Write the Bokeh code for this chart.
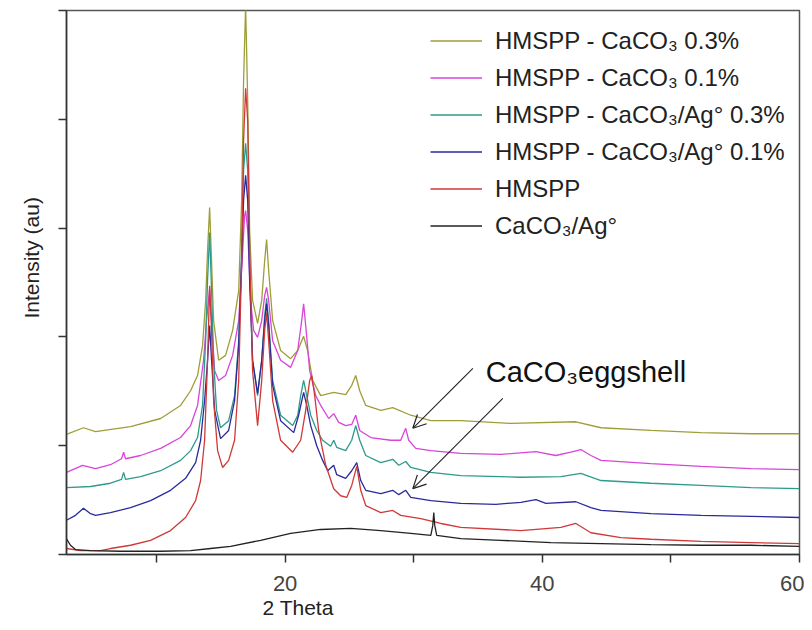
from bokeh.plotting import figure
from bokeh.models import FixedTicker, Legend, LegendItem, Label, Arrow, OpenHead, Range1d, Title
from bokeh.embed import file_html
from bokeh.resources import INLINE

# ---------------- data (2 Theta in degrees, intensity in arbitrary units 0-100) -------------
olive_x = [3.00, 4.32, 5.26, 7.98, 10.32, 11.87, 12.65, 13.19, 13.58, 13.82, 13.97, 14.13, 14.28, 14.44,
           14.83, 15.37, 15.92, 16.39, 16.62, 16.77, 16.93, 17.09, 17.24, 17.47, 17.86, 18.18, 18.41,
           18.56, 18.72, 19.03, 19.65, 20.43, 20.98, 21.44, 21.75, 22.14, 22.77, 23.78, 24.71, 25.18,
           25.49, 25.80, 26.27, 27.44, 28.37, 29.77, 31.33, 33.66, 37.55, 42.61, 44.56, 48.45, 52.34,
           56.23, 60.0]
olive_y = [22.1, 23.3, 22.6, 23.5, 25.0, 27.4, 30.1, 32.9, 38.4, 46.7, 55.9, 63.8, 54.0, 43.0,
           35.7, 36.6, 41.2, 48.5, 65.1, 87.1, 101, 83.5, 59.6, 46.7, 42.5, 46.7, 54.0,
           57.9, 52.2, 43.0, 37.5, 36.0, 37.5, 40.1, 37.5, 32.0, 29.2, 29.8, 29.4, 31.1,
           32.9, 30.1, 27.4, 26.5, 27.0, 25.6, 24.6, 24.6, 24.1, 24.4, 23.3, 22.8, 22.4,
           22.2, 22.2]

magenta_x = [3.00, 4.25, 5.26, 6.42, 7.28, 7.44, 7.59, 8.76, 10.32, 11.87, 12.65, 13.19, 13.66, 13.89,
             14.13, 14.28, 14.52, 14.83, 15.37, 15.92, 16.39, 16.62, 16.85, 16.93, 17.09, 17.32, 17.55,
             17.86, 18.18, 18.41, 18.56, 18.72, 19.03, 19.65, 20.43, 20.98, 21.29, 21.44, 21.60, 21.91,
             22.38, 22.77, 23.39, 23.78, 24.17, 24.71, 25.18, 25.49, 25.80, 26.66, 28.21, 28.99, 29.23,
             29.38, 29.61, 30.16, 31.33, 33.66, 36.77, 39.50, 41.05, 42.22, 43.00, 43.78, 44.56, 48.45,
             52.34, 56.23, 60.0]
magenta_y = [15.1, 16.4, 15.8, 16.5, 17.6, 18.8, 17.6, 18.2, 19.5, 21.5, 23.7, 27.4, 35.7, 43.0,
             48.9, 43.0, 33.8, 32.0, 32.9, 36.6, 43.0, 52.2, 62.3, 63.2, 59.6, 46.7, 41.2,
             39.9, 43.0, 47.6, 49.1, 46.7, 39.3, 35.7, 34.4, 37.5, 43.0, 46.1, 42.1, 33.8,
             29.2, 27.4, 25.0, 25.9, 24.3, 23.7, 23.9, 25.6, 22.8, 21.5, 21.0, 21.0, 22.4,
             23.2, 21.0, 19.5, 19.1, 18.6, 18.4, 18.9, 18.2, 18.8, 19.3, 18.2, 17.3, 16.7,
             16.2, 15.8, 15.6]

teal_x = [3.00, 4.87, 6.42, 7.28, 7.44, 7.59, 8.76, 10.32, 11.87, 12.65, 13.19, 13.58, 13.82, 13.97,
          14.13, 14.28, 14.44, 14.67, 14.98, 15.61, 16.07, 16.39, 16.62, 16.77, 16.93, 17.09, 17.24,
          17.47, 17.86, 18.18, 18.41, 18.56, 18.72, 19.03, 19.65, 20.59, 20.98, 21.21, 21.44, 21.68,
          21.99, 22.46, 22.92, 23.54, 23.78, 24.01, 24.71, 25.18, 25.49, 25.80, 26.27, 27.44, 28.37,
          28.84, 29.38, 29.77, 31.33, 33.66, 38.33, 41.44, 43.00, 44.56, 48.45, 52.34, 56.23, 60.0]
teal_y = [12.3, 12.5, 13.1, 13.8, 15.1, 13.8, 14.3, 15.4, 17.3, 19.1, 21.5, 27.4, 39.3, 50.4,
          59.2, 48.5, 35.7, 26.5, 23.3, 24.6, 29.2, 39.3, 55.9, 70.6, 75.6, 70.6, 54.0,
          35.7, 29.2, 35.7, 43.9, 47.1, 43.0, 32.0, 25.6, 23.7, 25.6, 29.2, 32.0, 29.2,
          25.6, 22.8, 21.0, 19.9, 21.0, 19.7, 19.1, 21.0, 23.7, 21.0, 18.2, 16.9, 17.5,
          16.4, 17.1, 16.0, 15.1, 14.5, 14.2, 14.3, 14.9, 13.6, 13.1, 12.7, 12.3, 12.1]

blue_x = [3.00, 3.70, 4.32, 4.87, 5.26, 6.42, 7.98, 9.54, 11.09, 12.26, 13.04, 13.43, 13.74, 13.97,
          14.13, 14.28, 14.52, 14.98, 15.61, 16.07, 16.39, 16.62, 16.77, 16.93, 17.09, 17.24, 17.47,
          17.86, 18.18, 18.41, 18.56, 18.72, 19.03, 19.65, 20.67, 21.05, 21.44, 21.68, 21.99, 22.46,
          22.92, 23.31, 23.78, 24.01, 24.71, 25.18, 25.57, 25.88, 26.27, 27.44, 28.37, 28.84, 29.38,
          29.77, 31.33, 33.66, 36.39, 38.33, 39.50, 40.28, 42.61, 43.78, 44.56, 48.45, 52.34, 56.23,
          60.0]
blue_y = [6.3, 7.2, 8.5, 7.5, 7.2, 7.7, 8.6, 9.9, 11.8, 14.0, 16.9, 21.0, 28.3, 35.7,
          42.1, 35.7, 26.5, 21.3, 22.8, 28.3, 38.4, 54.0, 65.1, 69.7, 65.1, 50.4, 35.7,
          29.6, 35.7, 43.0, 46.1, 42.1, 31.1, 24.6, 22.4, 25.6, 29.8, 27.4, 23.7, 20.0,
          17.3, 15.4, 16.4, 14.7, 14.0, 15.4, 16.9, 13.6, 11.8, 11.2, 11.8, 11.0, 11.8,
          10.5, 9.9, 9.4, 9.2, 9.6, 10.1, 9.4, 9.7, 8.6, 8.1, 7.5, 7.2, 7.0,
          6.8]

red_x = [3.00, 4.09, 5.65, 6.42, 7.98, 9.54, 11.09, 12.26, 13.04, 13.43, 13.74, 13.97, 14.13, 14.28,
         14.44, 14.75, 15.14, 15.61, 16.07, 16.39, 16.62, 16.77, 16.93, 17.09, 17.24, 17.47, 17.86,
         18.18, 18.41, 18.56, 18.72, 19.03, 19.65, 20.59, 21.21, 21.60, 21.91, 22.07, 22.30, 22.61,
         23.16, 23.78, 24.32, 24.79, 25.18, 25.57, 25.88, 26.27, 27.44, 28.37, 28.99, 30.55, 32.11,
         33.66, 38.33, 41.44, 42.61, 43.78, 46.11, 48.45, 52.34, 56.23, 60.0]
red_y = [1.1, 0.7, 0.7, 1.1, 1.7, 2.6, 4.4, 6.8, 9.9, 13.6, 21.0, 35.7, 49.4, 41.2,
         28.3, 19.1, 16.0, 17.3, 21.0, 32.0, 54.0, 76.1, 85.7, 79.8, 55.9, 33.8, 23.7,
         32.0, 41.2, 44.5, 39.3, 28.3, 21.0, 18.8, 21.0, 26.5, 32.0, 32.9, 29.2, 22.8,
         16.4, 12.1, 10.8, 10.5, 12.7, 16.2, 11.8, 9.0, 7.7, 8.1, 7.2, 6.6, 5.7,
         5.0, 4.4, 5.0, 5.7, 4.0, 3.1, 2.8, 2.4, 2.2, 2.0]

black_x = [3.00, 3.31, 3.70, 4.87, 7.20, 10.32, 12.65, 14.21, 15.76, 18.10, 20.43, 22.77, 25.10, 27.44,
           29.77, 31.33, 31.48, 31.56, 31.64, 31.79, 33.66, 36.77, 40.67, 44.56, 48.45, 52.34, 56.23,
           60.0]
black_y = [2.9, 1.7, 0.9, 0.7, 0.6, 0.6, 0.7, 1.1, 1.5, 2.6, 3.9, 4.6, 4.8, 4.4,
           3.9, 3.5, 5.3, 7.7, 5.3, 3.5, 2.9, 2.6, 2.2, 2.0, 1.8, 1.7, 1.7, 1.5]

series_labels = ["HMSPP - CaCO\u2083 0.3%", "HMSPP - CaCO\u2083 0.1%", "HMSPP - CaCO\u2083/Ag\u00b0 0.3%",
                 "HMSPP - CaCO\u2083/Ag\u00b0 0.1%", "HMSPP", "CaCO\u2083/Ag\u00b0"]
x_tick_values = [10, 20, 30, 40, 50, 60]
x_tick_labels = {10: "", 20: "20", 30: "", 40: "40", 50: "", 60: "60"}
y_tick_values = [0, 20, 40, 60, 80, 100]

# ---------------- figure -------------
FONT = "Liberation Sans"
p = figure(width=804, height=622, output_backend="svg", toolbar_location=None,
           x_range=Range1d(3, 60), y_range=Range1d(0, 100),
           min_border_left=66, min_border_right=5, min_border_top=10, min_border_bottom=68)
p.background_fill_color = "white"
p.border_fill_color = "white"
p.xgrid.visible = False
p.ygrid.visible = False
p.outline_line_color = "#555555"
p.outline_line_width = 1.5

p.xaxis.ticker = FixedTicker(ticks=x_tick_values, minor_ticks=[])
p.xaxis.major_label_overrides = x_tick_labels
p.xaxis.major_tick_out = 8
p.xaxis.major_tick_in = 0
p.xaxis.minor_tick_out = 0
p.xaxis.major_label_text_font = FONT
p.xaxis.major_label_text_font_size = "22px"
p.xaxis.major_label_text_color = "#444444"
p.xaxis.major_label_standoff = 13

p.yaxis.ticker = FixedTicker(ticks=y_tick_values, minor_ticks=[])
p.yaxis.major_label_overrides = {v: "" for v in y_tick_values}
p.yaxis.major_tick_out = 8
p.yaxis.major_tick_in = 0
p.yaxis.minor_tick_out = 0

for ax in (p.xaxis[0], p.yaxis[0]):
    ax.axis_line_color = "#333333"
    ax.axis_line_width = 1.5
    ax.major_tick_line_color = "#333333"
    ax.major_tick_line_width = 1.5

colors = ["#9e9e38", "#d845d8", "#2e9a8c", "#2a2a9c", "#d03838", "#222222"]
xs = [olive_x, magenta_x, teal_x, blue_x, red_x, black_x]
ys = [olive_y, magenta_y, teal_y, blue_y, red_y, black_y]

renderers = []
for xv, yv, c in zip(xs, ys, colors):
    renderers.append(p.line(xv, yv, line_color=c, line_width=1.3))

legend = Legend(items=[LegendItem(label=lab, renderers=[r]) for lab, r in zip(series_labels, renderers)],
                location=(364, 310), padding=0, margin=0,
                border_line_alpha=0, background_fill_alpha=0,
                glyph_width=52, glyph_height=37, label_height=37, spacing=0, label_standoff=13,
                label_text_font=FONT, label_text_font_size="24px", label_text_color="#222222")
p.add_layout(legend)

# annotation: CaCO3 eggshell arrows
p.add_layout(Label(x=35.6, y=33.5, text="CaCO\u2083eggshell", text_font=FONT,
                   text_font_size="29px", text_color="#111111", text_baseline="alphabetic"))
for xs0, ys0, xe, ye in [(34.6, 34.2, 29.93, 23.2), (36.93, 28.7, 29.93, 12.1)]:
    p.add_layout(Arrow(end=OpenHead(size=13, line_width=1.2, line_color="#222222"),
                       x_start=xs0, y_start=ys0, x_end=xe, y_end=ye,
                       line_width=1.1, line_color="#222222"))

# axis titles (placed off-centre like in the original)
p.add_layout(Title(text="2 Theta", align="left", offset=196, standoff=0, text_font=FONT,
                   text_font_size="21px", text_font_style="normal", text_color="#222222"), "below")
p.add_layout(Title(text="Intensity (au)", align="left", offset=236, standoff=32, text_font=FONT,
                   text_font_size="21px", text_font_style="normal", text_color="#222222"), "left")

open("out.html", "w").write(file_html(p, INLINE))
